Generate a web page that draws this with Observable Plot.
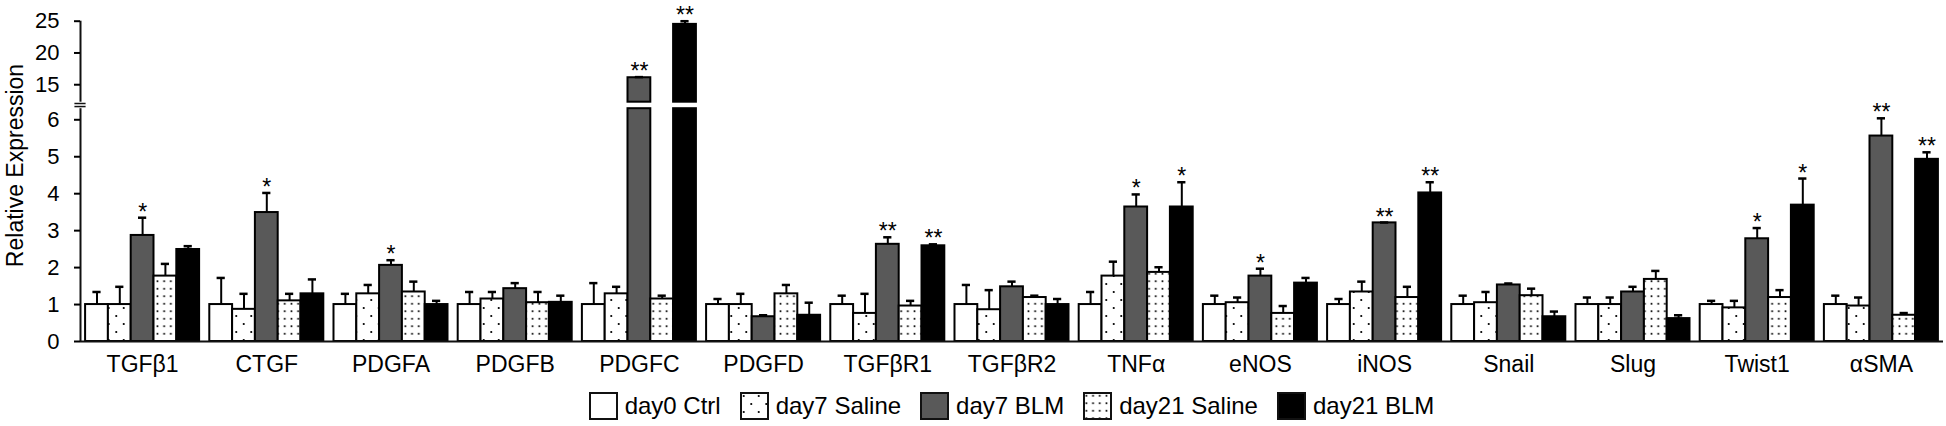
<!DOCTYPE html>
<html><head><meta charset="utf-8">
<script src="https://cdn.jsdelivr.net/npm/d3@7"></script>
<script src="https://cdn.jsdelivr.net/npm/@observablehq/plot@0.6"></script>
<style>
body{margin:0;background:#fff;font-family:"Liberation Sans",Arial,sans-serif;}
#legend{display:flex;justify-content:center;align-items:center;gap:19px;margin-left:80px;width:1863px;margin-top:7px;font-size:24px;color:#000;line-height:28px;}
.item{display:flex;align-items:center;gap:7px;}
.item svg{display:block;}
</style></head><body>
<div id="chart"></div>
<div id="legend"></div>
<script>
// ---- data ----
const genes = ["TGFβ1","CTGF","PDGFA","PDGFB","PDGFC","PDGFD","TGFβR1","TGFβR2","TNFα","eNOS","iNOS","Snail","Slug","Twist1","αSMA"];
const series = ["day0 Ctrl","day7 Saline","day7 BLM","day21 Saline","day21 BLM"];

const day0Ctrl      = [1,1,1,1,1,1,1,1,1,1,1,1,1,1,1];
const day0CtrlErr   = [0.34,0.72,0.29,0.34,0.58,0.15,0.24,0.53,0.34,0.24,0.15,0.24,0.19,0.10,0.24];
const day7Saline    = [1.00,0.87,1.29,1.15,1.29,1.00,0.76,0.86,1.77,1.05,1.34,1.05,1.00,0.91,0.96];
const day7SalineErr = [0.48,0.42,0.24,0.19,0.19,0.29,0.53,0.53,0.39,0.14,0.28,0.29,0.19,0.19,0.23];
const day7BLM       = [2.87,3.49,2.06,1.43,16.1,0.67,2.63,1.48,3.64,1.77,3.21,1.53,1.34,2.78,5.56];
const day7BLMErr    = [0.48,0.53,0.14,0.15,0.10,0.04,0.19,0.14,0.34,0.20,0.01,0.04,0.14,0.29,0.48];
const day21Saline   = [1.77,1.10,1.34,1.05,1.15,1.29,0.96,1.19,1.87,0.76,1.19,1.24,1.68,1.19,0.71];
const day21SalineErr= [0.33,0.19,0.28,0.29,0.09,0.24,0.14,0.05,0.14,0.20,0.29,0.19,0.23,0.20,0.06];
const day21BLM      = [2.49,1.29,1.00,1.06,24.5,0.71,2.59,1.00,3.64,1.58,4.02,0.67,0.62,3.69,4.93];
const day21BLMErr   = [0.09,0.39,0.10,0.18,0.50,0.34,0.04,0.15,0.67,0.14,0.29,0.14,0.09,0.72,0.19];
const day7BLMSig    = ["*","*","*","","**","","**","","*","*","**","","","*","**"];
const day21BLMSig   = ["","","","","**","","**","","*","","**","","","*","**"];
const noSig         = ["","","","","","","","","","","","","","",""];

const yTicks = [0,1,2,3,4,5,6,15,20,25];
const yBreak = [6.3, 12.25];   // broken-axis gap (lower top, upper bottom)
const yMax = 25;

// ---- layout / styles ----
const fills = ["white","url(#dotsSparse)","#595959","url(#dotsDense)","black"];
const groupGap = 0.082;
const barW = (1 - groupGap) / series.length;
const capHalf = 0.033;

const valueSets = [day0Ctrl, day7Saline, day7BLM, day21Saline, day21BLM];
const errSets = [day0CtrlErr, day7SalineErr, day7BLMErr, day21SalineErr, day21BLMErr];
const sigSets = [noSig, noSig, day7BLMSig, noSig, day21BLMSig];

const rows = [];
genes.forEach((g, i) => series.forEach((s, j) => {
  const x1 = i + groupGap / 2 + j * barW;
  rows.push({gene: g, series: s, x1, x2: x1 + barW, xc: x1 + barW / 2,
    value: valueSets[j][i], err: errSets[j][i], sig: sigSets[j][i]});
}));
const upperRows = rows.filter(d => d.value > yBreak[1]);
const axisSegs = [{y1: 0, y2: yBreak[0]}, {y1: yBreak[1], y2: yMax}];
const breakMarks = [yBreak[0] + (yBreak[1] - yBreak[0]) * 0.33, yBreak[0] + (yBreak[1] - yBreak[0]) * 0.8];

const plot = Plot.plot({
  width: 1946, height: 385,
  marginLeft: 80, marginRight: 3, marginTop: 21, marginBottom: 44,
  style: {fontFamily: '"Liberation Sans", Arial, sans-serif', fontSize: "22px", color: "black", background: "white"},
  x: {domain: [0, genes.length], axis: null},
  y: {type: "linear", domain: [0, yBreak[0], yBreak[1], yMax], range: [341, 108.2, 101.7, 20.7]},
  color: {type: "ordinal", domain: series, range: fills},
  marks: [
    Plot.rectY(rows, {x1: "x1", x2: "x2", y1: () => 0, y2: d => Math.min(d.value, yBreak[0]), fill: "series", stroke: "black", strokeWidth: 2}),
    Plot.rectY(upperRows, {x1: "x1", x2: "x2", y1: () => yBreak[1], y2: "value", fill: "series", stroke: "black", strokeWidth: 2}),
    Plot.ruleX(rows, {x: "xc", y1: "value", y2: d => d.value + d.err, stroke: "black", strokeWidth: 2}),
    Plot.ruleY(rows, {x1: d => d.xc - capHalf, x2: d => d.xc + capHalf, y: d => d.value + d.err, stroke: "black", strokeWidth: 2.5}),
    Plot.text(rows.filter(d => d.sig), {x: "xc", y: d => d.value + d.err, text: "sig", lineAnchor: "bottom", dy: 2, fontSize: 23}),
    Plot.ruleY([0], {stroke: "#111", strokeWidth: 2}),
    Plot.ruleX(axisSegs, {x: () => 0, y1: "y1", y2: "y2", stroke: "#111", strokeWidth: 2}),
    Plot.ruleY(breakMarks, {x1: () => -0.045, x2: () => 0.045, y: d => d, stroke: "#111", strokeWidth: 1.5}),
    Plot.axisY({ticks: yTicks, tickSize: 6, tickPadding: 15, fontSize: 22, label: null, strokeWidth: 2}),
    Plot.text(genes, {x: (d, i) => i + 0.5, frameAnchor: "bottom", lineAnchor: "top", dy: 14, fontSize: 23}),
    Plot.text(["Relative Expression"], {frameAnchor: "left", dx: -65, dy: -16, rotate: -90, textAnchor: "middle", lineAnchor: "middle", fontSize: 23})
  ]
});

// patterns
const defs = document.createElementNS("http://www.w3.org/2000/svg", "defs");
defs.innerHTML = `
<pattern id="dotsSparse" patternUnits="userSpaceOnUse" width="15" height="16">
  <rect width="15" height="16" fill="white"/>
  <circle cx="3.75" cy="4" r="1.1" fill="black"/>
  <circle cx="11.25" cy="12" r="1.1" fill="black"/>
</pattern>
<pattern id="dotsDense" patternUnits="userSpaceOnUse" width="6.7" height="7.5">
  <rect width="6.7" height="7.5" fill="white"/>
  <circle cx="3.35" cy="3.75" r="1.05" fill="black"/>
</pattern>`;
plot.insertBefore(defs, plot.firstChild);
document.getElementById("chart").appendChild(plot);

// legend
const legend = document.getElementById("legend");
series.forEach((s, j) => {
  const item = document.createElement("div");
  item.className = "item";
  item.innerHTML = `<svg width="29" height="28"><rect x="1" y="1" width="27" height="26" fill="${fills[j]}" stroke="#111" stroke-width="2"/></svg><span>${s}</span>`;
  legend.appendChild(item);
});
</script>
</body></html>
